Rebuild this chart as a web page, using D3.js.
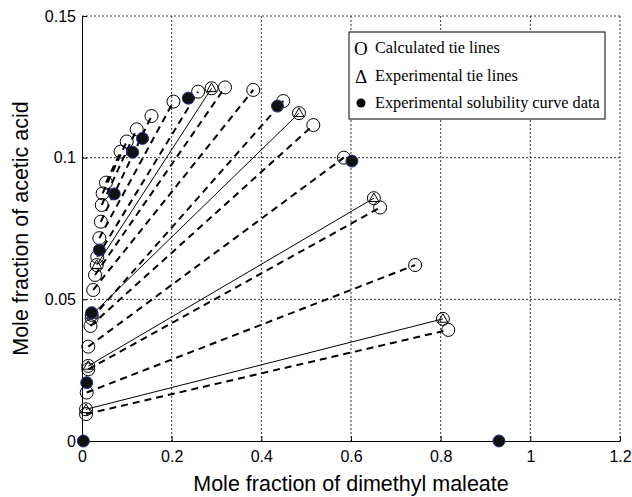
<!DOCTYPE html>
<html>
<head>
<meta charset="utf-8">
<script src="https://cdn.jsdelivr.net/npm/d3@7"></script>
<style>
  body { margin: 0; background: #fff; }
  svg { display: block; }
  .axis .tick text { font-family: Arial, "Liberation Sans", sans-serif; font-size: 16px; fill: #000; }
  .axis path, .axis line { stroke: #000; }
  .axis-label { font-family: Arial, "Liberation Sans", sans-serif; font-size: 21.5px; fill: #000; }
  .legend text { font-family: "Liberation Serif", "Times New Roman", serif; font-size: 16.3px; fill: #000; }
  .legend text.sym { font-size: 19px; }
</style>
</head>
<body>
<svg id="chart" width="632" height="497"></svg>
<script>
// Tick labels
const xTicks = [0, 0.2, 0.4, 0.6, 0.8, 1, 1.2];
const yTicks = [0, 0.05, 0.1, 0.15];

// Calculated tie lines (raffinate end -> extract end)
const calcLeftX  = [0.009, 0.0105, 0.014, 0.014, 0.019, 0.0216, 0.025, 0.029, 0.034, 0.0386, 0.042, 0.044, 0.046, 0.0535];
const calcLeftY  = [0.0095, 0.0171, 0.0253, 0.0333, 0.0406, 0.0433, 0.0533, 0.0586, 0.065, 0.0716, 0.0774, 0.0833, 0.0874, 0.0912];
const calcRightX = [0.817, 0.743, 0.665, 0.584, 0.516, 0.449, 0.382, 0.319, 0.259, 0.204, 0.155, 0.122, 0.0997, 0.086];
const calcRightY = [0.0392, 0.0621, 0.0824, 0.1, 0.1115, 0.12, 0.1239, 0.1248, 0.1233, 0.1198, 0.1147, 0.110, 0.1057, 0.1021];

// Experimental tie lines
const expLeftX  = [0.009, 0.014, 0.0216, 0.0328];
const expLeftY  = [0.0112, 0.0265, 0.0445, 0.0621];
const expRightX = [0.805, 0.651, 0.484, 0.289];
const expRightY = [0.0431, 0.0857, 0.1157, 0.1245];

// Experimental solubility curve data
const solX = [0.003, 0.0105, 0.0216, 0.0386, 0.072, 0.113, 0.135, 0.237, 0.436, 0.602, 0.93];
const solY = [0, 0.0206, 0.0453, 0.0674, 0.0872, 0.1019, 0.1068, 0.121, 0.1182, 0.0988, 0];

const legendItems = ['Calculated tie lines', 'Experimental tie lines', 'Experimental solubility curve data'];

const calcLines = calcLeftX.map((x, i) => ({ x1: x, y1: calcLeftY[i], x2: calcRightX[i], y2: calcRightY[i] }));
const expLines = expLeftX.map((x, i) => ({ x1: x, y1: expLeftY[i], x2: expRightX[i], y2: expRightY[i] }));
const solPoints = solX.map((x, i) => ({ x: x, y: solY[i] }));

const svg = d3.select('#chart');
const margin = { top: 16, right: 12, bottom: 56, left: 82 };
const width = 632 - margin.left - margin.right;
const height = 497 - margin.top - margin.bottom;

const plot = svg.append('g')
  .attr('transform', `translate(${margin.left}, ${margin.top})`);

const xScale = d3.scaleLinear().domain([0, 1.2]).range([0, width]);
const yScale = d3.scaleLinear().domain([0, 0.15]).range([height, 0]);

// Dotted grid (also forms top and right border)
plot.append('g').selectAll('line')
  .data(xTicks.slice(1))
  .join('line')
  .attr('x1', d => xScale(d)).attr('x2', d => xScale(d))
  .attr('y1', 0).attr('y2', height)
  .attr('stroke', '#333').attr('stroke-width', 1)
  .attr('stroke-dasharray', '2,2');

plot.append('g').selectAll('line')
  .data(yTicks.slice(1))
  .join('line')
  .attr('x1', 0).attr('x2', width)
  .attr('y1', d => yScale(d)).attr('y2', d => yScale(d))
  .attr('stroke', '#333').attr('stroke-width', 1)
  .attr('stroke-dasharray', '2,2');

// Axes
const fmt = d => String(+d.toFixed(2));
plot.append('g')
  .attr('class', 'axis')
  .attr('transform', `translate(0, ${height})`)
  .call(d3.axisBottom(xScale).tickValues(xTicks).tickFormat(fmt)
    .tickSizeInner(-5).tickSizeOuter(0).tickPadding(10));

plot.append('g')
  .attr('class', 'axis')
  .call(d3.axisLeft(yScale).tickValues(yTicks).tickFormat(fmt)
    .tickSizeInner(-5).tickSizeOuter(0).tickPadding(6));

// Tie lines
plot.append('g').selectAll('line')
  .data(calcLines)
  .join('line')
  .attr('x1', d => xScale(d.x1)).attr('y1', d => yScale(d.y1))
  .attr('x2', d => xScale(d.x2)).attr('y2', d => yScale(d.y2))
  .attr('stroke', '#000').attr('stroke-width', 2)
  .attr('stroke-dasharray', '7,5');

plot.append('g').selectAll('line')
  .data(expLines)
  .join('line')
  .attr('x1', d => xScale(d.x1)).attr('y1', d => yScale(d.y1))
  .attr('x2', d => xScale(d.x2)).attr('y2', d => yScale(d.y2))
  .attr('stroke', '#000').attr('stroke-width', 1);

// Open circles: calculated ends, plus rings around the experimental ends
const calcEnds = calcLines.flatMap(d => [{ x: d.x1, y: d.y1 }, { x: d.x2, y: d.y2 }]);
const expEnds = expLines.flatMap(d => [{ x: d.x1, y: d.y1 }, { x: d.x2, y: d.y2 }]);

plot.append('g').selectAll('circle')
  .data(calcEnds.concat(expEnds))
  .join('circle')
  .attr('cx', d => xScale(d.x)).attr('cy', d => yScale(d.y))
  .attr('r', 6.5)
  .attr('fill', 'none').attr('stroke', '#000').attr('stroke-width', 1);

plot.append('g').selectAll('path')
  .data(expEnds)
  .join('path')
  .attr('transform', d => `translate(${xScale(d.x)}, ${yScale(d.y) + 0.5})`)
  .attr('d', d3.symbol(d3.symbolTriangle, 42))
  .attr('fill', 'none').attr('stroke', '#000').attr('stroke-width', 1);

// Solubility curve points
plot.append('g').selectAll('circle')
  .data(solPoints)
  .join('circle')
  .attr('cx', d => xScale(d.x)).attr('cy', d => yScale(d.y))
  .attr('r', 6)
  .attr('fill', '#111').attr('stroke', '#23308a').attr('stroke-width', 1);

// Axis labels
svg.append('text')
  .attr('class', 'axis-label')
  .attr('x', margin.left + width / 2)
  .attr('y', 491)
  .attr('text-anchor', 'middle')
  .text('Mole fraction of dimethyl maleate');

svg.append('text')
  .attr('class', 'axis-label')
  .attr('transform', 'rotate(-90)')
  .attr('x', -(margin.top + height / 2))
  .attr('y', 28)
  .attr('text-anchor', 'middle')
  .text('Mole fraction of acetic acid');

// Legend
const legend = svg.append('g').attr('class', 'legend');
legend.append('rect')
  .attr('x', 349).attr('y', 32).attr('width', 256).attr('height', 87)
  .attr('fill', '#fff').attr('stroke', '#000').attr('stroke-width', 1);

const rowY = [48, 76, 103];
legend.append('text').attr('class', 'sym').attr('x', 354).attr('y', rowY[0] + 7).text('O');
legend.append('text').attr('class', 'sym').attr('x', 355).attr('y', rowY[1] + 7).text('Δ');
legend.append('circle').attr('cx', 361).attr('cy', rowY[2]).attr('r', 4.5).attr('fill', '#000');
legend.selectAll('text.item')
  .data(legendItems)
  .join('text')
  .attr('class', 'item')
  .attr('x', 375)
  .attr('y', (d, i) => rowY[i] + 5)
  .text(d => d);
</script>
</body>
</html>
